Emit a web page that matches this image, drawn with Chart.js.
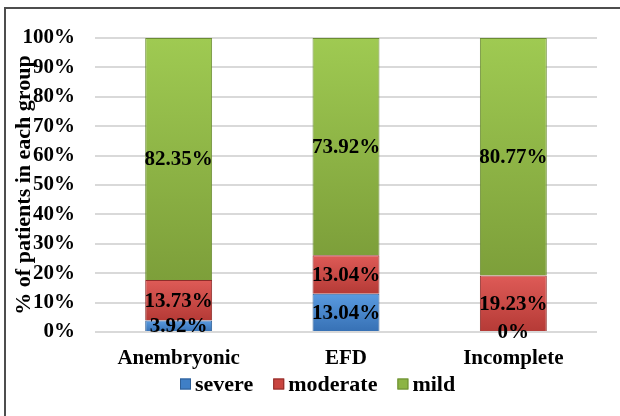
<!DOCTYPE html>
<html>
<head>
<meta charset="utf-8">
<script src="https://cdn.jsdelivr.net/npm/chart.js@4"></script>
<style>
  html, body { margin: 0; padding: 0; background: #fff; overflow: hidden; }
  #wrap { position: relative; width: 620px; height: 416px; }
</style>
</head>
<body>
<div id="wrap"><canvas id="myBarChart" width="620" height="416"></canvas></div>
<script>
// chart data
var groups = ["Anembryonic", "EFD", "Incomplete"];
var severe = [3.92, 13.04, 0];
var moderate = [13.73, 13.04, 19.23];
var mild = [82.35, 73.92, 80.77];

var serif = "'Times New Roman', 'Liberation Serif', serif";

// shaded fill: lighter at top of a segment, darker at its bottom
function shade(top, bottom) {
  return function(c) {
    if (c.type !== "data") return bottom;
    var chart = c.chart, y = chart.scales.y;
    var start = 0;
    for (var k = 0; k < c.datasetIndex; k++) start += chart.data.datasets[k].data[c.dataIndex];
    var end = start + c.raw;
    var y0 = y.getPixelForValue(end), y1 = y.getPixelForValue(start);
    if (!isFinite(y0) || !isFinite(y1) || y0 === y1) return bottom;
    var g = chart.ctx.createLinearGradient(0, y0, 0, y1);
    g.addColorStop(0, top);
    g.addColorStop(1, bottom);
    return g;
  };
}

// frame round the whole chart
var framePlugin = {
  id: "frame",
  beforeDraw: function(chart) {
    var ctx = chart.ctx;
    ctx.save();
    ctx.strokeStyle = "#4d4d4d";
    ctx.lineWidth = 2;
    ctx.strokeRect(5, 8, 700, 500);
    ctx.restore();
  }
};

// value labels in the middle of every segment
var valuePlugin = {
  id: "values",
  afterDatasetsDraw: function(chart) {
    var ctx = chart.ctx;
    ctx.save();
    ctx.font = "bold 21px " + serif;
    ctx.fillStyle = "#000";
    ctx.textAlign = "center";
    ctx.textBaseline = "middle";
    chart.data.datasets.forEach(function(ds, i) {
      var meta = chart.getDatasetMeta(i);
      meta.data.forEach(function(bar, j) {
        var y = (bar.y + bar.base) / 2;
        ctx.fillText(ds.data[j] + "%", bar.x, y + 1);
      });
    });
    ctx.restore();
  }
};

// legend drawn by hand, Excel style (small box, tight gap)
var legendColors = ["#3f7fc6", "#c9443f", "#8cb444"];
var legendPlugin = {
  id: "excelLegend",
  afterDraw: function(chart) {
    var ctx = chart.ctx;
    var box = 11, gap = 4, spacing = 20;
    ctx.save();
    ctx.font = "bold 22px " + serif;
    ctx.textBaseline = "middle";
    var items = chart.data.datasets.map(function(ds, i) {
      return { text: ds.label, fill: legendColors[i], stroke: ds.borderColor, w: ctx.measureText(ds.label).width };
    });
    var total = 0;
    items.forEach(function(it, k) {
      total += box + gap + it.w + (k < items.length - 1 ? spacing : 0);
    });
    var x = Math.round(318 - total / 2);
    var y = 385;
    items.forEach(function(it) {
      ctx.fillStyle = it.fill;
      ctx.fillRect(x, y - box / 2 - 1, box, box);
      ctx.strokeStyle = it.stroke;
      ctx.lineWidth = 1;
      ctx.strokeRect(x + 0.5, y - box / 2 - 0.5, box - 1, box - 1);
      ctx.fillStyle = "#000";
      ctx.fillText(it.text, x + box + gap, y);
      x += box + gap + it.w + spacing;
    });
    ctx.restore();
  }
};

var chartdata = {
  labels: groups,
  datasets: [
    {
      label: "severe",
      backgroundColor: shade("#5a9be0", "#3670b4"),
      borderColor: "#2f5f96",
      borderWidth: 1,
      data: severe
    },
    {
      label: "moderate",
      backgroundColor: shade("#de5b57", "#b53a36"),
      borderColor: "#8e2d2a",
      borderWidth: 1,
      data: moderate
    },
    {
      label: "mild",
      backgroundColor: shade("#9fca52", "#7d9f3a"),
      borderColor: "#6b8c33",
      borderWidth: 1,
      data: mild
    }
  ]
};

var options = {
  responsive: false,
  animation: false,
  layout: { padding: { left: 5, top: 38, right: 23, bottom: 44 } },
  datasets: { bar: { categoryPercentage: 0.8, barPercentage: 0.5 } },
  plugins: {
    legend: { display: false },
    tooltip: { enabled: false }
  },
  scales: {
    x: {
      stacked: true,
      grid: { display: false, drawTicks: false },
      border: { display: false },
      ticks: {
        color: "#000",
        padding: 14,
        font: { family: serif, size: 21, weight: "bold" }
      },
      afterFit: function(scale) { scale.height = 40; }
    },
    y: {
      stacked: true,
      min: 0,
      max: 100,
      grid: { color: "#d9d9d9", lineWidth: 2, drawTicks: false },
      border: { display: false },
      ticks: {
        stepSize: 10,
        color: "#000",
        padding: 20,
        font: { family: serif, size: 21, weight: "bold" },
        callback: function(v) { return v + "%"; }
      },
      title: {
        display: true,
        text: "% of patients in each group",
        color: "#000",
        padding: { top: 6, bottom: 0 },
        font: { family: serif, size: 22, weight: "bold" }
      },
      afterFit: function(scale) { scale.width = 90; }
    }
  }
};

var ctx = document.getElementById("myBarChart");
var chart = new Chart(ctx, {
  type: "bar",
  data: chartdata,
  options: options,
  plugins: [framePlugin, valuePlugin, legendPlugin]
});
</script>
</body>
</html>
